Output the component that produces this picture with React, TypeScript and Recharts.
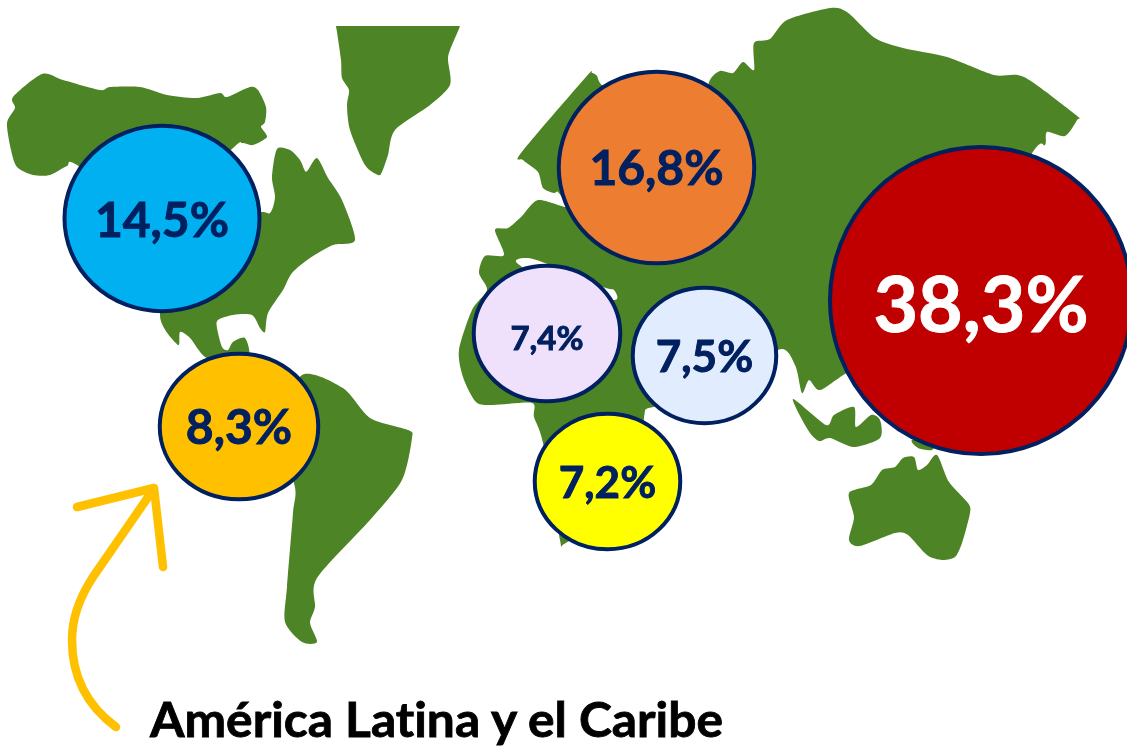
import React from "react";
import { ScatterChart, Scatter, XAxis, YAxis, ZAxis, Customized } from "recharts";

// Values
const regions = ["América del Norte", "Europa", "Asia", "África del Norte", "Oriente Medio", "África", "América Latina y el Caribe"];
const shares = [14.5, 16.8, 38.3, 7.4, 7.5, 7.2, 8.3];
const mapX = [162, 656.5, 981, 547, 704.5, 607.5, 239];
const mapY = [218.5, 167.5, 300.5, 333.5, 355.5, 481.5, 426.5];
const bubbleArea = [9506, 9555, 22800, 5366, 5148, 5293, 6280];
const bubbleAspect = [0.951, 0.98, 1.017, 0.925, 0.944, 0.931, 0.918];

const fills = ["#00B0F0", "#ED7D31", "#C00000", "#EFE1FC", "#E2ECFF", "#FFFF00", "#FFC000"];
const labelColors = ["#002060", "#002060", "#FFFFFF", "#002060", "#002060", "#002060", "#002060"];
const labelSizes = [48, 48, 77, 33, 44, 44, 48];
const labelShift = [1, 0, 3, 4, 0, 0, 0];
const NAVY = "#002060";
const GREEN = "#4E8425";
const W = 1127;
const H = 746;
const FONT = "Lato, 'Open Sans', sans-serif";

const note = "América Latina y el Caribe";

const continents = [
  // Alaska / Canada
  "M42,74 L63,80 L100,90 L110,87 L140,87 L167,95 L197,98 L220,93 L227,97 L250,87 L258,90 L266,107 L265,122 L261,127 L267,137 L253,145 L242,143 L233,148 L160,220 L77,165 L67,166 L50,175 L33,175 L17,167 L11,150 L7,123 L15,108 L13,97 Z",
  // Eastern North America + Central America
  "M277,149 L290,150 L300,160 L305,171 L308,170 L317,158 L328,178 L342,200 L355,240 L333,245 L310,258 L292,273 L283,290 L268,313 L265,332 L260,328 L252,315 L233,315 L218,320 L217,328 L222,347 L228,350 L233,342 L245,338 L249,356 L230,365 L205,357 L190,338 L180,332 L178,345 L160,315 L180,250 L255,214 L270,213 L275,197 L272,177 Z",
  // Greenland (its flat top is the edge of the map picture)
  "M336,20 L336,20 L460,20 L460,20 L460,26 L450,50 L448,60 L450,85 L430,105 L395,130 L388,155 L382,172 L378,175 L365,165 L350,130 L347,105 L349,90 L342,78 L341,60 L337,32 L336,26 Z",
  // South America
  "M302,375 L343,388 L370,418 L408,430 L412,438 L402,480 L370,520 L317,578 L315,607 L310,623 L317,642 L302,642 L285,622 L287,587 L293,513 L295,487 L280,430 Z",
  // Eurasia + Africa
  "M586,77 L592,73 L597,76 L603,86 L640,110 L700,120 L709,82 L720,71 L733,73 L743,62 L754,70 L754,43 L770,39 L787,20 L830,8 L847,12 L875,38 L903,48 L947,57 L994,75 L1024,77 L1076,115 L1077,120 L1065,136 L1047,132 L1045,145 L1031,155 L950,300 L839,378 L819,390 L809,380 L802,393 L795,365 L778,350 L720,400 L653,407 L644,418 L640,480 L600,520 L564,544 L560,540 L543,443 L534,417 L532,403 L493,405 L476,402 L463,377 L459,350 L472,310 L487,290 L479,273 L485,256 L504,255 L495,230 L508,228 L521,217 L538,200 L567,207 L558,192 L554,193 L543,188 L538,172 L523,160 L521,153 Z",
  // Indonesia
  "M793,399 L826,425 L834,415 L854,407 L856,427 L871,415 L880,420 L880,438 L854,447 L830,438 L819,441 L808,430 Z",
  // Small island below the red bubble
  "M912,440 L936,440 L932,450 L918,448 Z",
  // Australia
  "M849,493 L871,485 L882,470 L895,467 L903,458 L914,457 L918,470 L927,465 L937,455 L949,482 L968,503 L970,513 L962,543 L955,557 L942,560 L927,555 L908,535 L895,533 L860,546 L849,540 L854,517 Z",
];
const mediterranean = "M517,263 L526,258 L545,263 L603,287 L614,290 L614,300 L560,290 Z";

const arrowPaths = [
  "M116,727 C86,705 72,675 72,640 C72,612 84,590 95,574 L153,490",
  "M77,507 L154,488 L163,567",
];

// Turn a straight-edged outline into a soft closed curve through the same vertices
function soften(outline: string, k = 0.13) {
  const nums = outline.match(/-?\d+(\.\d+)?/g)!.map(Number);
  const p: number[][] = [];
  for (let i = 0; i < nums.length; i += 2) p.push([nums[i], nums[i + 1]]);
  const n = p.length;
  let d = `M${p[0][0]},${p[0][1]}`;
  for (let i = 0; i < n; i++) {
    const p0 = p[(i - 1 + n) % n];
    const p1 = p[i];
    const p2 = p[(i + 1) % n];
    const p3 = p[(i + 2) % n];
    const c1x = p1[0] + (p2[0] - p0[0]) * k;
    const c1y = p1[1] + (p2[1] - p0[1]) * k;
    const c2x = p2[0] - (p3[0] - p1[0]) * k;
    const c2y = p2[1] - (p3[1] - p1[1]) * k;
    d += ` C${c1x.toFixed(1)},${c1y.toFixed(1)} ${c2x.toFixed(1)},${c2y.toFixed(1)} ${p2[0]},${p2[1]}`;
  }
  return d + " Z";
}

const points = shares.map((share, i) => ({
  region: regions[i],
  share,
  x: mapX[i],
  y: mapY[i],
  z: bubbleArea[i],
  aspect: bubbleAspect[i],
  fill: fills[i],
  labelColor: labelColors[i],
  labelSize: labelSizes[i],
  labelShift: labelShift[i],
}));

const MapLayer = () => (
  <g>
    <defs>
      <filter id="soft" x="-5%" y="-5%" width="110%" height="110%">
        <feGaussianBlur stdDeviation="0.7" />
      </filter>
      <clipPath id="greenlandEdge">
        <rect x={0} y={26} width={W} height={H} />
      </clipPath>
    </defs>
    <g filter="url(#soft)">
      {continents.map((d, i) => (
        <path key={i} d={soften(d)} fill={GREEN} clipPath={i === 2 ? "url(#greenlandEdge)" : undefined} />
      ))}
      <path d={soften(mediterranean)} fill="#FFFFFF" />
    </g>
  </g>
);

const Bubble = (props: any) => {
  const { cx, cy, width, payload } = props;
  const rx = width / 2;
  const ry = rx * payload.aspect;
  return (
    <g>
      <ellipse cx={cx} cy={cy} rx={rx} ry={ry} fill={payload.fill} stroke={NAVY} strokeWidth={4} />
      <text
        x={cx}
        y={cy + payload.labelSize * 0.37 + payload.labelShift}
        textAnchor="middle"
        fontFamily={FONT}
        fontWeight={700}
        fontSize={payload.labelSize}
        fill={payload.labelColor}
        stroke={payload.labelColor}
        strokeWidth={0.9}
      >
        {String(payload.share).replace(".", ",")}%
      </text>
    </g>
  );
};

const Annotation = () => (
  <g>
    {arrowPaths.map((d, i) => (
      <path key={i} d={d} fill="none" stroke="#FFC000" strokeWidth={8.5} strokeLinecap="round" strokeLinejoin="round" />
    ))}
    <text
      x={150}
      y={737}
      fontFamily={FONT}
      fontWeight={700}
      fontSize={47}
      fill="#000000"
      stroke="#000000"
      strokeWidth={0.8}
      textLength={573}
      lengthAdjust="spacingAndGlyphs"
      style={{ fontVariantLigatures: "none" }}
    >
      {note}
    </text>
  </g>
);

export default function App() {
  return (
    <div style={{ position: "absolute", left: 0, top: 0, width: W, height: H }}>
      <ScatterChart width={W} height={H} margin={{ top: 0, right: 0, bottom: 0, left: 0 }}>
        <XAxis type="number" dataKey="x" domain={[0, W]} hide />
        <YAxis type="number" dataKey="y" domain={[0, H]} reversed hide />
        <ZAxis type="number" dataKey="z" domain={[0, 22800]} range={[0, Math.PI * 22800]} />
        <Customized component={MapLayer} />
        <Scatter data={points} isAnimationActive={false} shape={Bubble} />
        <Customized component={Annotation} />
      </ScatterChart>
    </div>
  );
}
